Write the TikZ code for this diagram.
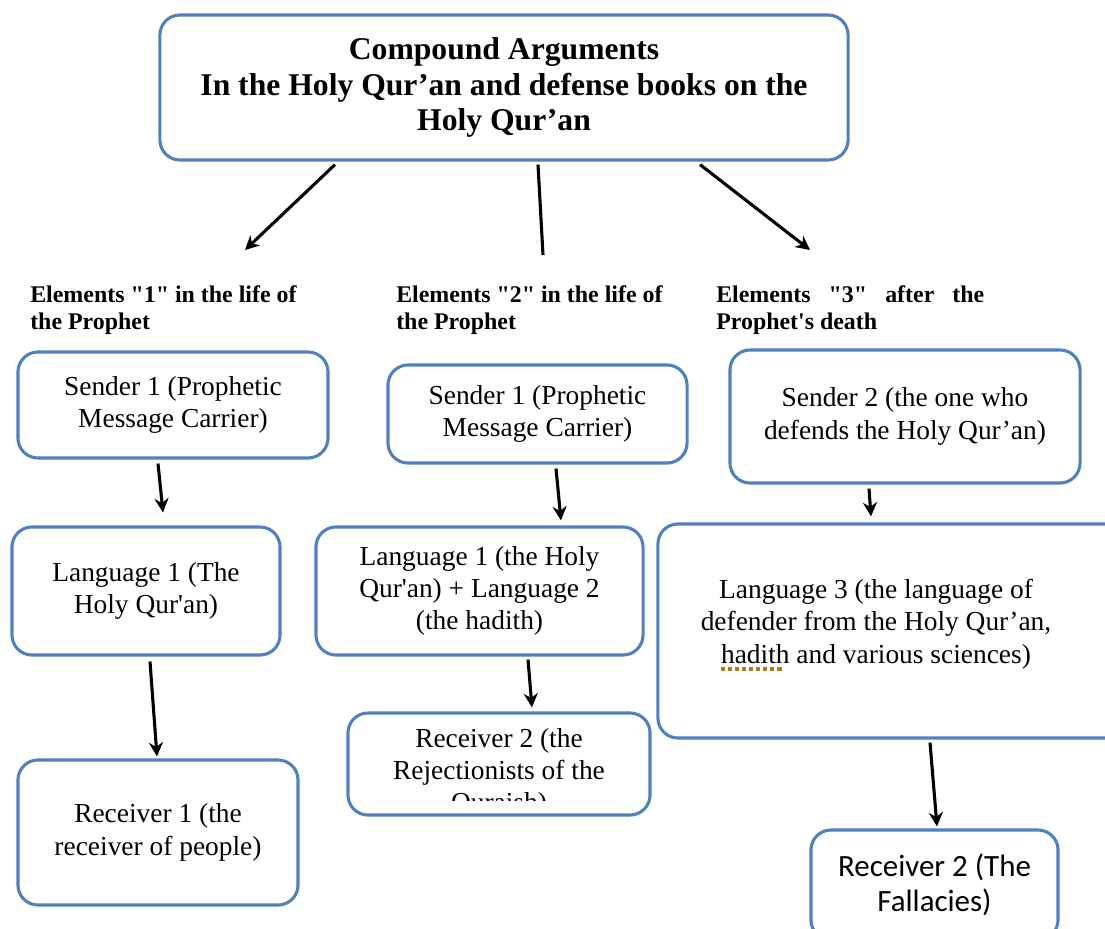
\documentclass[tikz,border=0pt]{standalone}
\usepackage{fontspec}
\setmainfont{Liberation Serif}
\newfontfamily\carlito{Carlito}
\usetikzlibrary{arrows.meta,calc}
\definecolor{myblue}{RGB}{79,129,189}
\definecolor{mybrown}{RGB}{181,122,28}
\newcommand\spellmark[1]{\setbox0=\hbox{#1}\rlap{\copy0}\rlap{\textcolor{mybrown}{\raisebox{-0.6ex}{\hbox to \wd0{\leaders\hbox{\rule{3pt}{2.4pt}\hspace{2pt}}\hfill}}}}\hspace{\wd0}}

\begin{document}
\begin{tikzpicture}[x=0.025cm, y=-0.025cm,
  box/.style={draw=myblue, line width=2.2pt, rounded corners=0.5cm, align=center, inner sep=0pt, font=\fontsize{19.5}{23}\selectfont},
  arr/.style={line width=2.2pt, -{Stealth[length=10pt,width=10pt]}},
  head/.style={anchor=west, align=left, inner sep=0pt, font=\bfseries\fontsize{17}{19.5}\selectfont}]
\useasboundingbox (0,0) rectangle (1105,928);
\fill[white] (0,0) rectangle (1105,928);
\clip (0,0) rectangle (1105,928);

% title
\node[box, minimum width=17.2cm, minimum height=3.625cm, font=\bfseries\fontsize{22.5}{25}\selectfont] (top) at (504,87.5)
  {Compound Arguments\\In the Holy Qur’an and defense books on the\\Holy Qur’an};
\coordinate (e1) at (245,250);
\coordinate (e2) at (543,255);
\coordinate (e3) at (810,250);
\draw[arr] ($(top.south)+(-169,3)$) -- (e1);
\draw[line width=2.2pt] ($(top.south)+(34,3)$) -- (e2);
\draw[arr] ($(top.south)+(196,3)$) -- (e3);

% headings
\node[head] (h1) at (30,310) {Elements \textquotedbl 1\textquotedbl{} in the life of\\the Prophet};
\node[head] (h2) at (396,310) {Elements \textquotedbl 2\textquotedbl{} in the life of\\the Prophet};
\node[head] (h3) at (716,310) {\makebox[6.7cm][s]{Elements \textquotedbl 3\textquotedbl{} after the}\\Prophet\textquotesingle s death};

% column 1
\node[box, minimum width=7.75cm, minimum height=2.65cm] (s1) at (173,405) {Sender 1 (Prophetic\\Message Carrier)};
\node[box, minimum width=6.7cm, minimum height=3.2cm] (l1) at (146,591) {Language 1 (The\\Holy Qur\textquotesingle an)};
\node[box, minimum width=7cm, minimum height=3.625cm] (r1) at (158,832.5) {Receiver 1 (the\\receiver of people)};
\draw[arr] ($(s1.south)+(-15,4)$) -- ($(l1.north)+(17,-13)$);
\draw[arr] ($(l1.south)+(4,5)$) -- ($(r1.north)+(-1,-2)$);

% column 2
\node[box, minimum width=7.475cm, minimum height=2.45cm] (s2) at (537.5,414) {Sender 1 (Prophetic\\Message Carrier)};
\node[box, minimum width=8.175cm, minimum height=3.2cm] (l2) at (479.5,591) {Language 1 (the Holy\\Qur\textquotesingle an) + Language 2\\(the hadith)};
\node[box, minimum width=7.55cm, minimum height=2.55cm] (r2) at (499,764) {};
\begin{scope}
\clip (350,715) rectangle (648,800);
\node[align=center, font=\fontsize{19.5}{23}\selectfont] (r2t) at (499,773) {Receiver 2 (the\\Rejectionists of the\\Quraish)};
\end{scope}
\draw[arr] ($(s2.south)+(18.5,4)$) -- ($(l2.north)+(81.5,-5)$);
\draw[arr] ($(l2.south)+(48.5,3)$) -- ($(r2.north)+(33,-4)$);

% column 3
\node[box, minimum width=8.75cm, minimum height=3.325cm] (s3) at (905,416.5) {Sender 2 (the one who\\defends the Holy Qur’an)};
\node[box, minimum width=11.9cm, minimum height=5.35cm] (l3) at (896,631) {};
\node[align=center, font=\fontsize{19.5}{23}\selectfont] (l3t) at (876,625) {Language 3 (the language of\\defender from the Holy Qur’an,\\\spellmark{hadith} and various sciences)};
\node[box, minimum width=6.175cm, minimum height=2.75cm, font=\carlito\fontsize{22}{25}\selectfont] (r3) at (934.5,885) {Receiver 2 (The\\Fallacies)};
\draw[arr] ($(s3.south)+(-36,4)$) -- ($(l3.north)+(-25,-6)$);
\draw[arr] ($(l3.south)+(34,3)$) -- ($(r3.north)+(2.5,-2)$);
\end{tikzpicture}
\end{document}
